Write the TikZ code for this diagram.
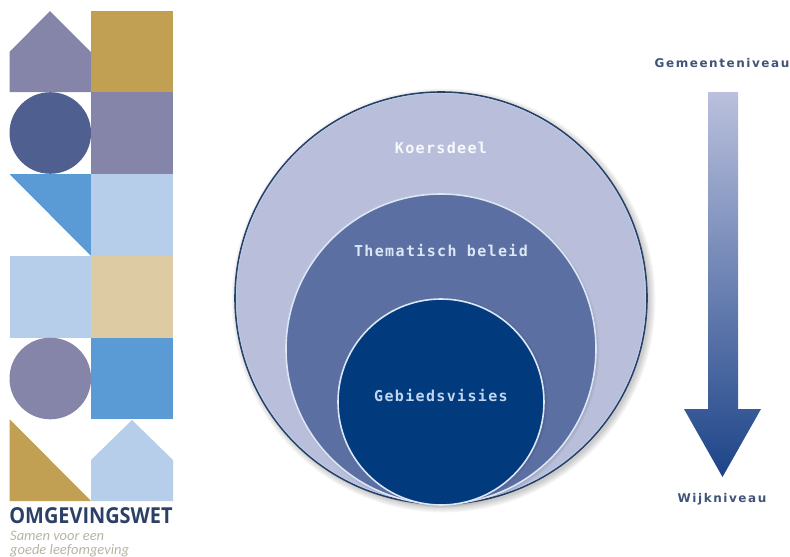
\documentclass[tikz,border=0pt]{standalone}
\usepackage{fontspec}
\setmainfont{Open Sans}
\newfontfamily\ringfont[LetterSpace=9]{DejaVu Sans Mono Bold}
\newfontfamily\levelfont[LetterSpace=13]{DejaVu Sans Bold}
\newfontfamily\logofont{Open Sans}
\newfontfamily\tagfont{Carlito}
\definecolor{cHouse}{HTML}{8585A9}
\definecolor{cGold}{HTML}{C1A053}
\definecolor{cDisc}{HTML}{4F5F90}
\definecolor{cBlue}{HTML}{5B9BD5}
\definecolor{cPale}{HTML}{B7CEEB}
\definecolor{cSand}{HTML}{DDCBA4}
\definecolor{cNavy}{HTML}{2B4066}
\definecolor{cTag}{HTML}{B8B3A4}
\definecolor{cOuter}{HTML}{B9BEDB}
\definecolor{cMid}{HTML}{5B6FA3}
\definecolor{cIn}{HTML}{023A7E}
\definecolor{cRim}{HTML}{DCE7F5}
\definecolor{cLevel}{HTML}{3F5478}
\definecolor{cArrowTop}{HTML}{BAC0DD}
\definecolor{cArrowMid}{HTML}{6F80B2}
\definecolor{cArrowEnd}{HTML}{1D4488}
\tikzset{
  ring/.style={circle,inner sep=0pt,outer sep=0pt,line width=1.6pt,draw=cRim},
  ringlabel/.style={font=\ringfont\fontsize{15}{15}\selectfont,inner sep=0pt,anchor=center},
  levellabel/.style={font=\levelfont\fontsize{12}{13}\selectfont,text=cLevel,inner sep=0pt,anchor=center},
  taglabel/.style={font=\tagfont\itshape\fontsize{14.5}{14.5}\selectfont,text=cTag,inner sep=0pt,anchor=west},
}
\begin{document}
\begin{tikzpicture}[x=1pt,y=-1pt]
\useasboundingbox (0,0) rectangle (790,557);
% logo tiles
\fill[cHouse] (9.5,92) -- (9.5,52) -- (50,11) -- (91,52) -- (91,92) -- cycle;
\fill[cGold] (91,11) rectangle (173,92);
\fill[cDisc] (50.3,133) circle (40.8);
\fill[cHouse] (91,92) rectangle (173,174);
\fill[cBlue] (9.5,174) -- (91,174) -- (91,256) -- cycle;
\fill[cPale] (91,174) rectangle (173,256);
\fill[cPale] (9.5,256) rectangle (91,338);
\fill[cSand] (91,256) rectangle (173,338);
\fill[cHouse] (50.3,378.5) circle (40.8);
\fill[cBlue] (91,338) rectangle (173,419);
\fill[cGold] (9.5,419) -- (91,501) -- (9.5,501) -- cycle;
\fill[cPale] (91,501) -- (91,460) -- (132,420) -- (173,460) -- (173,501) -- cycle;
\node[font=\logofont\bfseries\fontsize{22}{22}\selectfont,text=cNavy,inner sep=0pt,anchor=center] (logo) at (91,516) {\scalebox{0.905}[1]{OMGEVINGSWET}};
\node[taglabel] (tagA) at (10,536) {Samen voor een};
\node[taglabel] (tagB) at (10,551) {goede leefomgeving};
% soft shadow
\foreach \k in {0,1,...,6}{
  \fill[black,opacity=0.03] (443.5,300.5) circle ({206+\k});
}
% rings
\node[ring,fill=cOuter,draw=cNavy,minimum size=412pt] (outer) at (441,298) {};
\draw[cPale,line width=0.8pt] (441,298) circle (204.6);
\foreach \k in {0,1,2,3}{
  \fill[black,opacity=0.03] (442.5,350.5) circle ({154+\k});
}
\node[ring,fill=cMid,minimum size=310pt] (middle) at (441,349) {};
\foreach \k in {0,1,2,3}{
  \fill[black,opacity=0.03] (442.5,402.5) circle ({102+\k});
}
\node[ring,fill=cIn,minimum size=206pt] (inner) at (441,402) {};
\node[ringlabel,text=white!90!cOuter] (koers) at (441,148) {Koersdeel};
\node[ringlabel,text=cRim] (them) at (441,251) {Thematisch beleid};
\node[ringlabel,text=cPale!85!white] (gebied) at (441,396) {Gebiedsvisies};
% level arrow
\shade[top color=cArrowTop,middle color=cArrowMid,bottom color=cArrowEnd,shading angle=0]
  (708,92) -- (738,92) -- (738,409) -- (761,409) -- (722.5,477) -- (684,409) -- (708,409) -- cycle;
\node[levellabel] (top) at (722,63) {Gemeenteniveau};
\node[levellabel] (bottom) at (722,499) {Wijkniveau};
\end{tikzpicture}
\end{document}
